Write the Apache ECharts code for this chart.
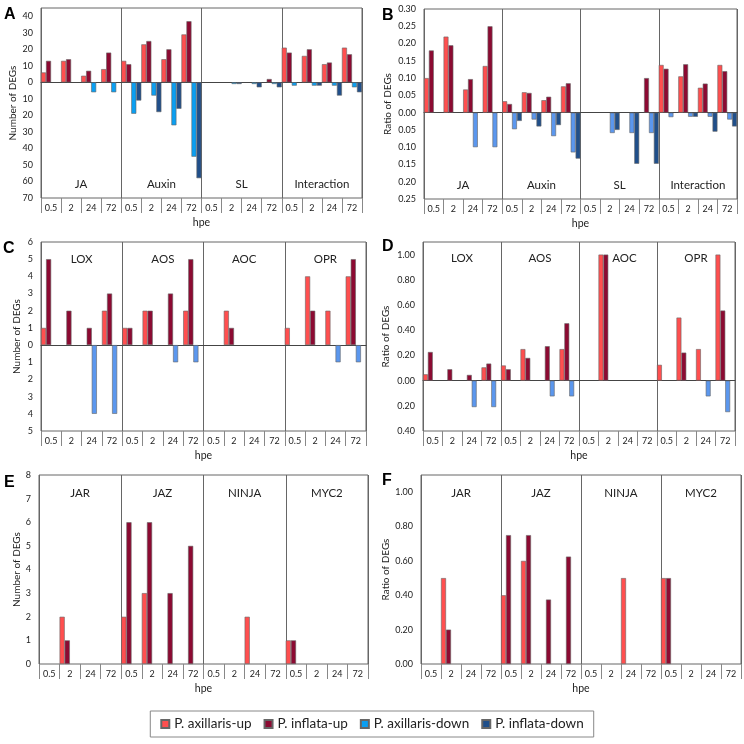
<!DOCTYPE html>
<html>
<head>
<meta charset="utf-8">
<script src="https://cdn.jsdelivr.net/npm/echarts@6/dist/echarts.min.js"></script>
<style>
html, body { margin: 0; padding: 0; background: #fff; }
#main { width: 744px; height: 744px; }
</style>
</head>
<body>
<div id="main"></div>
<script>
// hpe time points, repeated once per group
const hpe = ['0.5', '2', '24', '72'];
const seriesNames = ['P. axillaris-up', 'P. inflata-up', 'P. axillaris-down', 'P. inflata-down'];

// A - number of DEGs
const groupsA = ['JA', 'Auxin', 'SL', 'Interaction'];
const aAxUp  = [6, 13, 4, 8,    13, 23, 14, 29,    0, 0, 0, 0,    21, 16, 11, 21];
const aInfUp = [13, 14, 7, 18,  11, 25, 20, 37,    0, 0, 0, 2,    18, 20, 12, 17];
const aAxDn  = [0, 0, -6, -6,   -19, -8, -26, -45, 0, -1, -1, -1, -2, -2, -2, -3];
const aInfDn = [0, 0, 0, 0,     -11, -18, -16, -58, 0, -1, -3, -3, 0, -2, -8, -6];

// B - ratio of DEGs
const bAxUp  = [0.10, 0.22, 0.067, 0.135,  0.033, 0.059, 0.036, 0.076,  0, 0, 0, 0,  0.138, 0.105, 0.072, 0.138];
const bInfUp = [0.18, 0.195, 0.097, 0.25,  0.025, 0.057, 0.046, 0.085,  0, 0, 0, 0.10,  0.127, 0.14, 0.084, 0.12];
const bAxDn  = [0, 0, -0.10, -0.10,  -0.048, -0.02, -0.068, -0.115,  0, -0.059, -0.059, -0.059,  -0.013, -0.012, -0.012, -0.02];
const bInfDn = [0, 0, 0, 0,  -0.024, -0.04, -0.036, -0.133,  0, -0.05, -0.148, -0.148,  0, -0.012, -0.055, -0.04];

// C - number of DEGs, JA biosynthesis genes
const groupsC = ['LOX', 'AOS', 'AOC', 'OPR'];
const cAxUp  = [1, 0, 0, 2,  1, 2, 0, 2,  0, 2, 0, 0,  1, 4, 2, 4];
const cInfUp = [5, 2, 1, 3,  1, 2, 3, 5,  0, 1, 0, 0,  0, 2, 0, 5];
const cAxDn  = [0, 0, -4, -4,  0, 0, -1, -1,  0, 0, 0, 0,  0, 0, -1, -1];
const cInfDn = [0, 0, 0, 0,  0, 0, 0, 0,  0, 0, 0, 0,  0, 0, 0, 0];

// D - ratio of DEGs, JA biosynthesis genes
const dAxUp  = [0.05, 0, 0, 0.105,  0.12, 0.25, 0, 0.25,  0, 1, 0, 0,  0.125, 0.5, 0.25, 1];
const dInfUp = [0.227, 0.09, 0.045, 0.135,  0.09, 0.18, 0.273, 0.455,  0, 1, 0, 0,  0, 0.222, 0, 0.556];
const dAxDn  = [0, 0, -0.21, -0.21,  0, 0, -0.125, -0.125,  0, 0, 0, 0,  0, 0, -0.125, -0.25];
const dInfDn = [0, 0, 0, 0,  0, 0, 0, 0,  0, 0, 0, 0,  0, 0, 0, 0];

// E - number of DEGs, JA signalling genes
const groupsE = ['JAR', 'JAZ', 'NINJA', 'MYC2'];
const eAxUp  = [0, 2, 0, 0,  2, 3, 0, 0,  0, 0, 2, 0,  1, 0, 0, 0];
const eInfUp = [0, 1, 0, 0,  6, 6, 3, 5,  0, 0, 0, 0,  1, 0, 0, 0];
const eAxDn  = [];
const eInfDn = [];

// F - ratio of DEGs, JA signalling genes
const fAxUp  = [0, 0.5, 0, 0,  0.4, 0.6, 0, 0,  0, 0, 0.5, 0,  0.5, 0, 0, 0];
const fInfUp = [0, 0.2, 0, 0,  0.75, 0.75, 0.375, 0.625,  0, 0, 0, 0,  0.5, 0, 0, 0];
const fAxDn  = [];
const fInfDn = [];

const FONT = 'Lato';
const TXT = '#222';
const hpeLabels = [].concat(hpe, hpe, hpe, hpe);

const panels = [
  { key: 'A', groups: groupsA, data: [aAxUp, aInfUp, aAxDn, aInfDn], min: -70, max: 45, step: 10, digits: 0,
    yName: 'Number of DEGs', nameGap: 23, grid: { left: 41, top: 8, width: 321, height: 190 },
    groupPos: 'bottom', groupMargin: 8, zero: true, letter: [4, 7], downColor: '#0a9ff2' },
  { key: 'B', groups: groupsA, data: [bAxUp, bInfUp, bAxDn, bInfDn], min: -0.25, max: 0.30, step: 0.05, digits: 2,
    yName: 'Ratio of DEGs', nameGap: 31, grid: { left: 424, top: 9, width: 313, height: 190 },
    groupPos: 'bottom', groupMargin: 8, zero: true, letter: [382, 8], downColor: '#5b97ee' },
  { key: 'C', groups: groupsC, data: [cAxUp, cInfUp, cAxDn, cInfDn], min: -5, max: 6, step: 1, digits: 0,
    yName: 'Number of DEGs', nameGap: 19, grid: { left: 41, top: 242, width: 325, height: 189 },
    groupPos: 'top', groupMargin: 11, zero: true, letter: [3, 241], downColor: '#5b97ee' },
  { key: 'D', groups: groupsC, data: [dAxUp, dInfUp, dAxDn, dInfDn], min: -0.4, max: 1.1, step: 0.2, digits: 2,
    yName: 'Ratio of DEGs', nameGap: 32, grid: { left: 423, top: 242, width: 312, height: 189 },
    groupPos: 'top', groupMargin: 10, zero: true, letter: [382, 239], downColor: '#5b97ee',
    shift: [0, 0, 13, 0] },  // AOC label sits right of its bar
  { key: 'E', groups: groupsE, data: [eAxUp, eInfUp, eAxDn, eInfDn], min: 0, max: 8, step: 1, digits: 0,
    yName: 'Number of DEGs', nameGap: 17, grid: { left: 39, top: 475, width: 329, height: 189 },
    groupPos: 'top', groupMargin: 12, zero: false, letter: [4, 475], downColor: '#5b97ee' },
  { key: 'F', groups: groupsE, data: [fAxUp, fInfUp, fAxDn, fInfDn], min: 0, max: 1.1, step: 0.2, digits: 2,
    yName: 'Ratio of DEGs', nameGap: 30, grid: { left: 421, top: 475, width: 320, height: 189 },
    groupPos: 'top', groupMargin: 12, zero: false, letter: [382, 473], downColor: '#5b97ee' }
];

// zero values are just empty slots
function nz(arr) { return arr.map(v => (v === 0 ? null : v)); }

const option = {
  animation: false,
  textStyle: { fontFamily: FONT },
  grid: [], xAxis: [], yAxis: [], series: [], graphic: [],
  legend: {
    data: seriesNames, left: 'center', top: 711,
    padding: [6, 10], itemWidth: 8, itemHeight: 8, itemGap: 12, icon: 'rect',
    borderColor: '#888', borderWidth: 1,
    textStyle: { fontFamily: FONT, fontSize: 13.5, color: TXT }
  }
};

panels.forEach((p, i) => {
  const colors = ['#ff4f4f', '#8c0a32', p.downColor, '#204f8a'];
  const shift = p.shift || [0, 0, 0, 0];
  option.grid.push(Object.assign({ show: true, borderColor: '#666', borderWidth: 1 }, p.grid));

  option.yAxis.push({
    gridIndex: i, type: 'value', min: p.min, max: p.max, interval: p.step,
    name: p.yName, nameLocation: 'middle', nameGap: p.nameGap,
    nameTextStyle: { fontFamily: FONT, fontSize: 10, color: TXT },
    axisLine: { show: false }, axisTick: { show: false }, splitLine: { show: false },
    axisLabel: {
      fontFamily: FONT, fontSize: 9, color: TXT, margin: 8,
      formatter: v => {
        const k = v / p.step;
        if (Math.abs(k - Math.round(k)) > 1e-6) return '';
        return Math.abs(v).toFixed(p.digits);
      }
    }
  });

  // hpe labels along the bottom, long ticks between them
  option.xAxis.push({
    gridIndex: i, type: 'category', data: hpeLabels, position: 'bottom',
    name: 'hpe', nameLocation: 'middle', nameGap: 19, nameMoveOverlap: false,
    nameTextStyle: { fontFamily: FONT, fontSize: 10.5, color: TXT },
    axisLine: { show: false, onZero: false },
    axisTick: { show: true, interval: 0, length: 15, lineStyle: { color: '#888' } },
    axisLabel: { interval: 0, margin: 6, fontFamily: FONT, fontSize: 9, color: TXT }
  });

  // line at zero with short ticks
  option.xAxis.push({
    gridIndex: i, type: 'category', data: hpeLabels, position: 'bottom', show: p.zero,
    axisLine: { onZero: true, lineStyle: { color: '#444' } },
    axisTick: { interval: 0, length: 4, lineStyle: { color: '#444' } },
    axisLabel: { show: false }
  });

  // group names + separators
  option.xAxis.push({
    gridIndex: i, type: 'category', data: p.groups, position: p.groupPos,
    axisLine: { show: false, onZero: false }, axisTick: { show: false },
    axisLabel: {
      inside: true, margin: p.groupMargin, fontFamily: FONT, fontSize: 11.5, color: TXT,
      formatter: (v, idx) => (shift[idx] ? '{s|' + v + '}' : v),
      rich: { s: { padding: [0, 0, 0, shift[2] || 0], fontFamily: FONT, fontSize: 11.5, color: TXT } }
    },
    splitLine: { show: true, interval: 0, lineStyle: { color: '#666', width: 1 } }
  });

  p.data.forEach((d, k) => {
    option.series.push({
      type: 'bar', name: seriesNames[k], xAxisIndex: 3 * i, yAxisIndex: i,
      data: nz(d), barGap: '0%', barCategoryGap: '0%',
      itemStyle: { color: colors[k], borderColor: '#666', borderWidth: 0.6 }
    });
  });

  option.graphic.push({
    type: 'text', left: p.letter[0], top: p.letter[1],
    style: { text: p.key, font: 'bold 16px "Liberation Sans"', fill: '#000' }
  });
});

const chart = echarts.init(document.getElementById('main'));
chart.setOption(option);
window.addEventListener('resize', function () { chart.resize(); });
</script>
</body>
</html>
